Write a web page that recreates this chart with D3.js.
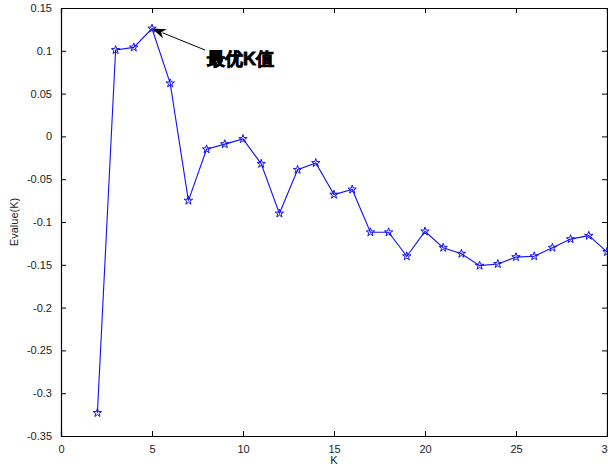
<!DOCTYPE html>
<html>
<head>
<meta charset="utf-8">
<script src="https://cdn.jsdelivr.net/npm/d3@7"></script>
<style>
  html, body { margin: 0; padding: 0; background: #fff; }
  svg { display: block; }
  text { font-family: "Liberation Sans", Arial, sans-serif; }
</style>
</head>
<body>
<svg id="chart" width="608" height="469"></svg>
<script>
// Cluster count K and its evaluation score
const kValues = [2, 3, 4, 5, 6, 7, 8, 9, 10, 11, 12, 13, 14, 15, 16, 17, 18, 19, 20, 21, 22, 23, 24, 25, 26, 27, 28, 29, 30];
const evalues = [-0.323, 0.101, 0.104, 0.126, 0.062, -0.075, -0.015, -0.009, -0.003, -0.032, -0.090, -0.039, -0.031,
                 -0.068, -0.062, -0.112, -0.112, -0.140, -0.111, -0.130, -0.137, -0.151, -0.149, -0.141, -0.140,
                 -0.130, -0.120, -0.116, -0.135];
const xTicks = [0, 5, 10, 15, 20, 25, 30];
const yTicks = [-0.35, -0.3, -0.25, -0.2, -0.15, -0.1, -0.05, 0, 0.05, 0.1, 0.15];
const bestK = 5;
const annotationText = "最优K值";

const svg = d3.select("#chart");
const margin = { left: 61, right: 1, top: 8, bottom: 33 };
const W = 608, H = 469;
const x = d3.scaleLinear().domain([0, 30]).range([margin.left, W - margin.right]);
const y = d3.scaleLinear().domain([-0.35, 0.15]).range([H - margin.bottom, margin.top]);

// Frame with inward ticks on all four sides
const axisColor = "#000";
const gx = svg.append("g").attr("transform", `translate(0,${y.range()[0]})`)
  .call(d3.axisBottom(x).tickValues(xTicks).tickSize(-5).tickPadding(9).tickFormat(d => d));
const gxTop = svg.append("g").attr("transform", `translate(0,${y.range()[1]})`)
  .call(d3.axisTop(x).tickValues(xTicks).tickSize(-5).tickFormat(""));
const gy = svg.append("g").attr("transform", `translate(${x.range()[0]},0)`)
  .call(d3.axisLeft(y).tickValues(yTicks).tickSize(-5).tickPadding(9).tickFormat(d => String(+d.toFixed(2))));
const gyRight = svg.append("g").attr("transform", `translate(${x.range()[1]},0)`)
  .call(d3.axisRight(y).tickValues(yTicks).tickSize(-5).tickFormat(""));

[gx, gxTop, gy, gyRight].forEach(g => {
  g.select(".domain").attr("stroke", axisColor).attr("stroke-width", 1.2);
  g.selectAll(".tick line").attr("stroke", axisColor);
  g.selectAll(".tick text").attr("fill", "#222").attr("font-size", 11)
    .attr("font-family", "'Liberation Sans', Arial, sans-serif");
});

// Axis titles
svg.append("text").attr("x", (x.range()[0] + x.range()[1]) / 2).attr("y", 464)
  .attr("text-anchor", "middle").attr("font-size", 11).attr("fill", "#222").text("K");
svg.append("text").attr("transform", `translate(18,${(y.range()[0] + y.range()[1]) / 2}) rotate(-90)`)
  .attr("text-anchor", "middle").attr("font-size", 11).attr("fill", "#222").text("Evalue(K)");

// Series line
const pts = kValues.map((k, i) => [k, evalues[i]]);
svg.append("path").datum(pts)
  .attr("fill", "none").attr("stroke", "#1010ff").attr("stroke-width", 1.1)
  .attr("d", d3.line().x(d => x(d[0])).y(d => y(d[1])));

// Pentagram markers
const star = d3.symbol().type(d3.symbolStar).size(22)();
svg.append("g").selectAll("path").data(pts).join("path")
  .attr("transform", d => `translate(${x(d[0])},${y(d[1])})`)
  .attr("d", star).attr("fill", "none").attr("stroke", "#1010ff").attr("stroke-width", 1);

// Annotation arrow pointing at the best K
const bi = kValues.indexOf(bestK);
const tip = [x(bestK), y(evalues[bi])];
const tail = [205, 50];
const ang = Math.atan2(tip[1] - tail[1], tip[0] - tail[0]);
const headLen = 14, headW = 5;
svg.append("line")
  .attr("x1", tail[0]).attr("y1", tail[1])
  .attr("x2", tip[0] - Math.cos(ang) * headLen * 0.8).attr("y2", tip[1] - Math.sin(ang) * headLen * 0.8)
  .attr("stroke", "#000").attr("stroke-width", 1);
const bx = tip[0] - Math.cos(ang) * headLen, by = tip[1] - Math.sin(ang) * headLen;
const nx = -Math.sin(ang), ny = Math.cos(ang);
svg.append("path")
  .attr("d", `M${tip[0]},${tip[1]} L${bx + nx * headW},${by + ny * headW} L${tip[0] - Math.cos(ang) * headLen * 0.7},${tip[1] - Math.sin(ang) * headLen * 0.7} L${bx - nx * headW},${by - ny * headW} Z`)
  .attr("fill", "#000");

svg.append("text").attr("x", 207).attr("y", 65)
  .attr("font-family", "'Noto Sans CJK SC', sans-serif").attr("font-weight", 900)
  .attr("font-size", 18).attr("fill", "#000")
  .attr("stroke", "#000").attr("stroke-width", 0.8)
  .text(annotationText);
</script>
</body>
</html>
